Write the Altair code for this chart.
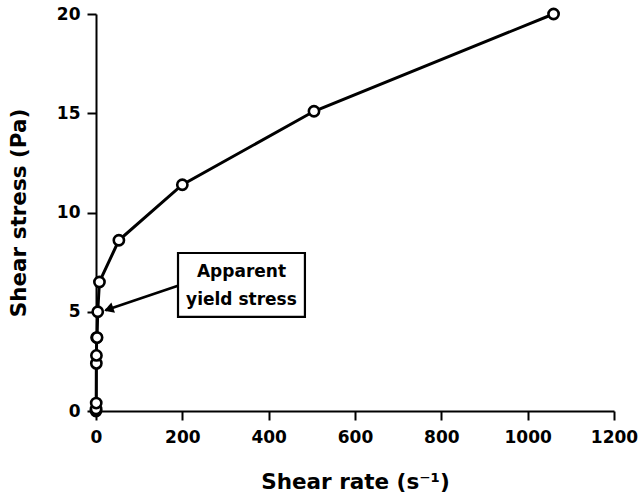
import altair as alt
import pandas as pd

# Measured flow curve (shear rate in 1/s, shear stress in Pa)
shear_rate = [0, 0.2, 0.5, 0.8, 1.0, 1.5, 2.5, 4, 8, 53, 200, 505, 1060]
shear_stress = [0.0, 0.1, 0.4, 2.4, 2.8, 3.7, 3.7, 5.0, 6.5, 8.6, 11.4, 15.1, 20.0]

x_ticks = [0, 200, 400, 600, 800, 1000, 1200]
y_ticks = [0, 5, 10, 15, 20]

annotation_lines = ["Apparent", "yield stress"]

FONT = "DejaVu Sans"

df = pd.DataFrame({"rate": shear_rate, "stress": shear_stress,
                   "order": list(range(len(shear_rate)))})

xscale = alt.Scale(domain=[0, 1200], nice=False, zero=True)
yscale = alt.Scale(domain=[0, 20], nice=False, zero=True)

xenc = alt.X("rate:Q", scale=xscale,
             axis=alt.Axis(values=x_ticks, format="d", labelFlush=False,
                           title="Shear rate (s⁻¹)", grid=False,
                           domainColor="black", domainWidth=2,
                           tickColor="black", tickWidth=2, tickSize=9,
                           labelFont=FONT, labelFontSize=17, labelFontWeight="bold",
                           labelColor="black", labelPadding=9,
                           titleFont=FONT, titleFontSize=21.5, titleFontWeight="bold",
                           titleColor="black", titlePadding=26))
yenc = alt.Y("stress:Q", scale=yscale,
             axis=alt.Axis(values=y_ticks, format="d", labelFlush=False,
                           title="Shear stress (Pa)", grid=False,
                           domainColor="black", domainWidth=2,
                           tickColor="black", tickWidth=2, tickSize=9,
                           labelFont=FONT, labelFontSize=17, labelFontWeight="bold",
                           labelColor="black", labelPadding=7,
                           titleFont=FONT, titleFontSize=21.5, titleFontWeight="bold",
                           titleColor="black", titlePadding=26))

base = alt.Chart(df)
line = base.mark_line(color="black", strokeWidth=3).encode(x=xenc, y=yenc, order="order:O")
pts = base.mark_point(shape="circle", size=105, filled=True, fill="white",
                      stroke="black", strokeWidth=2.6, opacity=1).encode(
    x=alt.X("rate:Q", scale=xscale), y=alt.Y("stress:Q", scale=yscale))

# annotation box
box_df = pd.DataFrame({"x1": [190], "x2": [484], "y1": [4.74], "y2": [7.96]})
box = alt.Chart(box_df).mark_rect(fill="white", stroke="black", strokeWidth=2.2).encode(
    x=alt.X("x1:Q", scale=xscale), x2="x2:Q",
    y=alt.Y("y1:Q", scale=yscale), y2="y2:Q")

txt_df = pd.DataFrame({"x": [337, 337], "y": [6.75, 5.34], "t": annotation_lines})
txt = alt.Chart(txt_df).mark_text(font=FONT, fontSize=17, fontWeight="bold",
                                  color="black", align="center", baseline="alphabetic").encode(
    x=alt.X("x:Q", scale=xscale), y=alt.Y("y:Q", scale=yscale), text="t:N")

arrow_df = pd.DataFrame({"x1": [195], "y1": [6.35], "x2": [22], "y2": [5.08]})
arrow = alt.Chart(arrow_df).mark_rule(color="black", strokeWidth=2.6).encode(
    x=alt.X("x1:Q", scale=xscale), y=alt.Y("y1:Q", scale=yscale),
    x2="x2:Q", y2="y2:Q")

head_df = pd.DataFrame({"x": [29.4], "y": [5.13]})
head = alt.Chart(head_df).mark_point(shape="triangle-up", size=120, filled=True,
                                     color="black", opacity=1, angle=251).encode(
    x=alt.X("x:Q", scale=xscale), y=alt.Y("y:Q", scale=yscale))

chart = alt.layer(line, arrow, head, box, txt, pts).properties(
    width=518, height=397,
    background="white",
    autosize=alt.AutoSizeParams(type="none"),
    padding={"left": 96, "top": 14, "right": 26, "bottom": 86},
).configure_view(stroke=None)

chart.save("out.html", embed_options={"renderer": "svg", "actions": False})
